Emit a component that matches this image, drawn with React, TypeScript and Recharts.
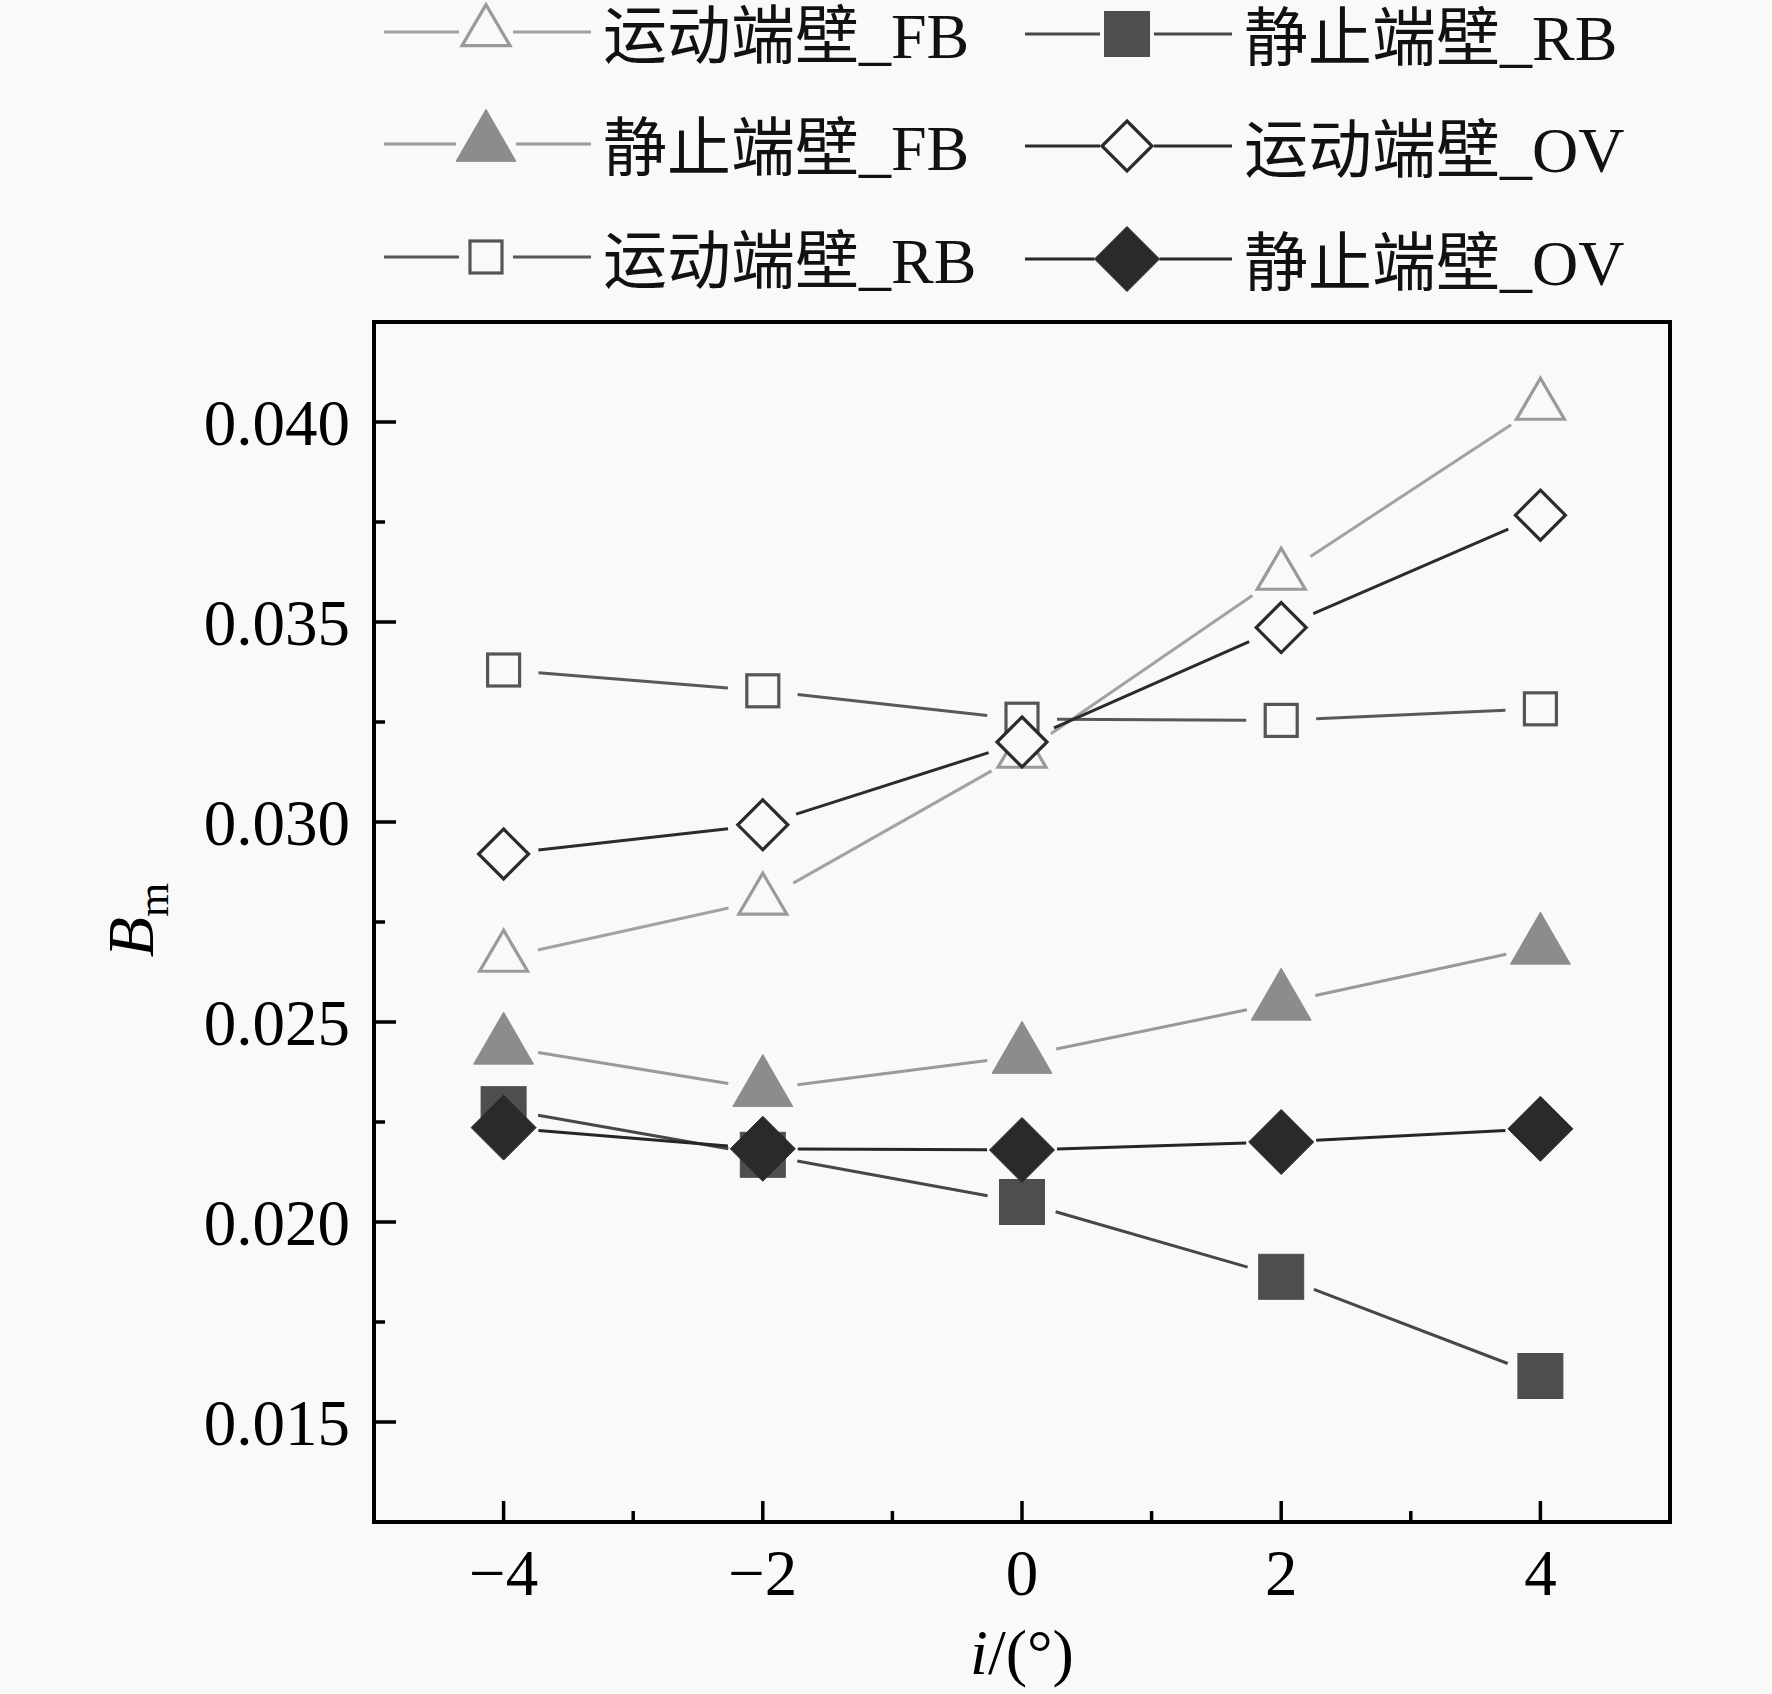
import React from 'react';
import { LineChart, Line, XAxis, YAxis, ReferenceArea } from 'recharts';

// incidence angle i (deg)
const xValues = [-4, -2, 0, 2, 4];

// B_m for each end-wall case
const movingFB = [0.02661, 0.02804, 0.03171, 0.03616, 0.04041];
const staticFB = [0.02438, 0.02332, 0.02415, 0.02548, 0.02688];
const movingRB = [0.0338, 0.03328, 0.03257, 0.03254, 0.03283];
const staticRB = [0.02282, 0.02168, 0.0205, 0.01863, 0.01615];
const movingOV = [0.0292, 0.02993, 0.032, 0.03486, 0.03767];
const staticOV = [0.02236, 0.02183, 0.0218, 0.022, 0.02233];

const seriesNames = ['运动端壁_FB', '静止端壁_FB', '运动端壁_RB', '静止端壁_RB', '运动端壁_OV', '静止端壁_OV'];

const xMajor = [-4, -2, 0, 2, 4];
const xMinor = [-3, -1, 1, 3];
const yMajor = [0.015, 0.02, 0.025, 0.03, 0.035, 0.04];
const yMinor = [0.0175, 0.0225, 0.0275, 0.0325, 0.0375];

const BG = '#f9f9f9';
const FONT = '"Liberation Serif", "Times New Roman", "Noto Sans CJK SC", serif';

type Shape = 'triangle' | 'square' | 'diamond';
interface SeriesStyle {
  key: string;
  name: string;
  values: number[];
  shape: Shape;
  filled: boolean;
  color: string;
  line: string;
  w: number;
  h: number;
}

const series: SeriesStyle[] = [
  { key: 'movingFB', name: seriesNames[0], values: movingFB, shape: 'triangle', filled: false, color: '#9a9a9a', line: '#a2a2a2', w: 48, h: 41 },
  { key: 'staticFB', name: seriesNames[1], values: staticFB, shape: 'triangle', filled: true, color: '#8c8c8c', line: '#999999', w: 60, h: 52 },
  { key: 'movingRB', name: seriesNames[2], values: movingRB, shape: 'square', filled: false, color: '#555555', line: '#585858', w: 32, h: 32 },
  { key: 'staticRB', name: seriesNames[3], values: staticRB, shape: 'square', filled: true, color: '#4e4e4e', line: '#474747', w: 45, h: 45 },
  { key: 'movingOV', name: seriesNames[4], values: movingOV, shape: 'diamond', filled: false, color: '#2b2b2b', line: '#2b2b2b', w: 50, h: 50 },
  { key: 'staticOV', name: seriesNames[5], values: staticOV, shape: 'diamond', filled: true, color: '#2a2a2a', line: '#262626', w: 65, h: 65 },
];

const data = xValues.map((x, i) => {
  const row: Record<string, number> = { x };
  series.forEach((s) => { row[s.key] = s.values[i]; });
  return row;
});

const Marker = ({ s, cx, cy }: { s: SeriesStyle; cx: number; cy: number }) => {
  const fill = s.filled ? s.color : BG;
  const sw = s.filled ? 1 : 3.2;
  if (s.shape === 'triangle') {
    const pts = `${cx},${cy - (2 * s.h) / 3} ${cx - s.w / 2},${cy + s.h / 3} ${cx + s.w / 2},${cy + s.h / 3}`;
    return <polygon points={pts} fill={fill} stroke={s.color} strokeWidth={sw} strokeLinejoin="miter" />;
  }
  if (s.shape === 'square') {
    return <rect x={cx - s.w / 2} y={cy - s.w / 2} width={s.w} height={s.w} fill={fill} stroke={s.color} strokeWidth={sw} />;
  }
  const r = s.w / 2;
  const pts = `${cx},${cy - r} ${cx + r},${cy} ${cx},${cy + r} ${cx - r},${cy}`;
  return <polygon points={pts} fill={fill} stroke={s.color} strokeWidth={sw} />;
};

// line segments that stop short of each marker, like the original plot
const gapSegments = (points: { x: number; y: number }[], gap: number, color: string) =>
  points.slice(1).map((q, i) => {
    const p = points[i];
    const dx = q.x - p.x;
    const dy = q.y - p.y;
    const len = Math.hypot(dx, dy);
    if (len <= gap * 2) return null;
    const ux = dx / len;
    const uy = dy / len;
    return (
      <line key={i} x1={p.x + ux * gap} y1={p.y + uy * gap} x2={q.x - ux * gap} y2={q.y - uy * gap}
        stroke={color} strokeWidth={3} />
    );
  });

const makeDot = (s: SeriesStyle) => (props: any) => {
  const { cx, cy, index, points } = props;
  return (
    <g key={`${s.key}-${index}`}>
      {index === 0 && points ? gapSegments(points, 35, s.line) : null}
      <Marker s={s} cx={cx} cy={cy} />
    </g>
  );
};

const near = (a: number, list: number[]) => list.some((v) => Math.abs(v - a) < 1e-9);

const YTick = (props: any) => {
  const { x, y, payload } = props;
  const major = near(payload.value, yMajor);
  return (
    <g>
      <line x1={x} y1={y} x2={x + (major ? 22 : 11)} y2={y} stroke="#000" strokeWidth={3.5} />
      {major && (
        <text x={x - 24} y={y + 23} textAnchor="end" fontSize={65} fontFamily={FONT} fill="#000">
          {payload.value.toFixed(3)}
        </text>
      )}
    </g>
  );
};

const XTick = (props: any) => {
  const { x, y, payload } = props;
  const major = near(payload.value, xMajor);
  const label = payload.value < 0 ? `\u2212${Math.abs(payload.value)}` : `${payload.value}`;
  return (
    <g>
      <line x1={x} y1={y} x2={x} y2={y - (major ? 21 : 11)} stroke="#000" strokeWidth={3.5} />
      {major && (
        <text x={x} y={y + 73} textAnchor="middle" fontSize={65} fontFamily={FONT} fill="#000">
          {label}
        </text>
      )}
    </g>
  );
};

const legendCols = [
  { x: 384, base: [58, 170, 283] },
  { x: 1025, base: [60, 172, 285] },
];

const LegendItem = ({ s, x, base }: { s: SeriesStyle; x: number; base: number }) => {
  const ly = base - 26;
  const mx = x + 102;
  const gap = Math.max(s.w / 2, 27);
  return (
    <g>
      <line x1={x} y1={ly} x2={mx - gap} y2={ly} stroke={s.line} strokeWidth={3} />
      <line x1={mx + gap} y1={ly} x2={x + 207} y2={ly} stroke={s.line} strokeWidth={3} />
      <Marker s={s} cx={mx} cy={ly} />
      <text x={x + 219} y={base} fontSize={64} fontFamily={FONT} fill="#111">{s.name}</text>
    </g>
  );
};

export default function App() {
  return (
    <div style={{ position: 'absolute', left: 0, top: 0, width: 1772, height: 1694, background: BG, overflow: 'hidden' }}>
      <LineChart width={1772} height={1694} data={data} margin={{ top: 322, right: 102, bottom: 72, left: 174 }}>
        <XAxis
          type="number"
          dataKey="x"
          domain={[-5, 5]}
          ticks={[...xMajor, ...xMinor]}
          interval={0}
          allowDataOverflow
          axisLine={false}
          tickLine={false}
          tickSize={0}
          tickMargin={0}
          height={100}
          tick={<XTick />}
        />
        <YAxis
          type="number"
          domain={[0.0125, 0.0425]}
          ticks={[...yMajor, ...yMinor]}
          interval={0}
          allowDataOverflow
          axisLine={false}
          tickLine={false}
          tickSize={0}
          tickMargin={0}
          width={200}
          tick={<YTick />}
        />
        <ReferenceArea x1={-5} x2={5} y1={0.0125} y2={0.0425} fill="none" stroke="#000" strokeWidth={4} />
        {series.map((s) => (
          <Line
            key={s.key}
            dataKey={s.key}
            name={s.name}
            stroke="none"
            dot={makeDot(s)}
            activeDot={false}
            isAnimationActive={false}
          />
        ))}
      </LineChart>
      <svg width={1772} height={1694} style={{ position: 'absolute', left: 0, top: 0, pointerEvents: 'none' }}>
        {legendCols.map((col, c) =>
          series.slice(c * 3, c * 3 + 3).map((s, r) => (
            <LegendItem key={s.key} s={s} x={col.x} base={col.base[r]} />
          ))
        )}
        <text transform="rotate(-90 153 920)" x={153} y={920} textAnchor="middle" fontFamily={FONT} fill="#000">
          <tspan fontStyle="italic" fontSize={66}>B</tspan>
          <tspan fontSize={44} dy={15}>m</tspan>
        </text>
        <text x={1022} y={1674} textAnchor="middle" fontSize={64} fontFamily={FONT} fill="#000">
          <tspan fontStyle="italic">i</tspan>/(°)
        </text>
      </svg>
    </div>
  );
}
